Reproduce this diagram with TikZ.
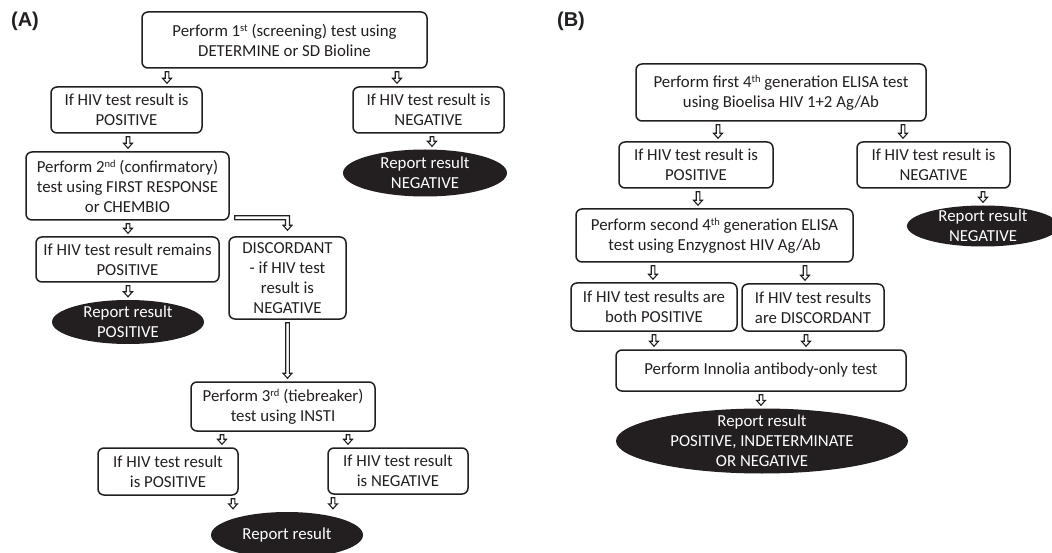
\documentclass[tikz,border=0pt]{standalone}
\usepackage{fontspec}
\setmainfont{Carlito}
\newfontfamily\labfont{Liberation Sans}
\usetikzlibrary{calc}
\definecolor{ink}{HTML}{231F20}
\tikzset{
  box/.style={draw=ink, line width=1.5pt, rounded corners=6pt, rectangle, align=center,
    inner sep=0pt, text=ink, font=\fontsize{16.8}{20}\selectfont},
  ovaltext/.style={rectangle, draw=none, align=center, inner sep=0pt, text=white,
    font=\fontsize{16.8}{20}\selectfont},
  harrow/.style={draw=ink, line width=1.1pt, fill=white, line join=miter},
  panel/.style={font=\labfont\bfseries\fontsize{20}{24}\selectfont, text=ink, inner sep=0pt}
}
\newcommand\ordsup[1]{\raisebox{5pt}{\fontsize{10.5}{10.5}\selectfont #1}}
% hollow block arrow at pixel x #1 from node #2 down to node #3
\newcommand\hollowarr[3]{%
  \draw[harrow] let \p1=(#2.south), \p2=(#3.north) in
    (#1pt-1.8pt, \y1-3pt) -- (#1pt+1.8pt, \y1-3pt) -- (#1pt+1.8pt, \y2+8pt)
    -- (#1pt+4.5pt, \y2+8pt) -- (#1pt, \y2+3pt) -- (#1pt-4.5pt, \y2+8pt)
    -- (#1pt-1.8pt, \y2+8pt) -- cycle;}
% black oval with white text: name, position, width, height, text
\newcommand\blackoval[5]{%
  \fill[ink] #2 ellipse [x radius=#3pt/2, y radius=#4pt/2];
  \node[ovaltext, minimum width=#3pt, minimum height=#4pt] (#1) at #2 {#5};}
\begin{document}
\begin{tikzpicture}[x=1pt,y=-1pt]
\useasboundingbox (0,0) rectangle (1052,553);
\fill[white] (0,0) rectangle (1052,553);

% ---------------- Panel A ----------------
\node[panel] (labA) at (25,21) {(A)};
\node[box, minimum width=285pt, minimum height=56pt] (A1) at (284.5,40)
  {Perform 1\ordsup{st} (screening) test using\\DETERMINE or SD Bioline};
\node[box, minimum width=151pt, minimum height=46pt] (A2) at (126.5,110)
  {If HIV test result is\\POSITIVE};
\node[box, minimum width=151pt, minimum height=46pt] (A3) at (428.5,110)
  {If HIV test result is\\NEGATIVE};
\blackoval{EA1}{(425,173)}{164}{47}{Report result\\NEGATIVE}
\node[box, minimum width=203pt, minimum height=68pt] (A4) at (127.5,186)
  {Perform 2\ordsup{nd} (confirmatory)\\test using FIRST RESPONSE\\or CHEMBIO};
\node[box, minimum width=183pt, minimum height=45pt] (A5) at (127.5,259.5)
  {If HIV test result remains\\POSITIVE};
\node[box, minimum width=117pt, minimum height=82pt] (A6) at (287.5,278)
  {DISCORDANT\\- if HIV test\\result is\\NEGATIVE};
\blackoval{EA2}{(128,322)}{152}{44}{Report result\\POSITIVE}
\node[box, minimum width=184pt, minimum height=49pt] (A7) at (283,406.5)
  {Perform 3\ordsup{rd} (tiebreaker)\\test using INSTI};
\node[box, minimum width=140pt, minimum height=47pt] (A8) at (168,471.5)
  {If HIV test result\\is POSITIVE};
\node[box, minimum width=140pt, minimum height=46pt] (A9) at (398,471)
  {If HIV test result\\is NEGATIVE};
\blackoval{EA3}{(287,535)}{152}{46}{Report result}

\hollowarr{167}{A1}{A2}
\hollowarr{397}{A1}{A3}
\hollowarr{128}{A2}{A4}
\hollowarr{432}{A3}{EA1}
\hollowarr{128}{A4}{A5}
\hollowarr{128}{A5}{EA2}
\hollowarr{287.5}{A6}{A7}
\hollowarr{222}{A7}{A8}
\hollowarr{348}{A7}{A9}
\hollowarr{233}{A8}{EA3}
\hollowarr{333}{A9}{EA3}
% elbow arrow from A4 to A6
\draw[harrow] let \p1=(A4.east), \p2=(A4.south), \p3=(A6.north) in
  (\x1+5pt, \y2+5pt) -- (\x3+2pt, \y2+5pt) -- (\x3+2pt, \y3+11pt)
  -- (\x3+4.5pt, \y3+11pt) -- (\x3, \y3+6pt) -- (\x3-4.5pt, \y3+11pt)
  -- (\x3-2pt, \y3+11pt) -- (\x3-2pt, \y2+1pt) -- (\x1+5pt, \y2+1pt) -- cycle;

% ---------------- Panel B ----------------
\node[panel] (labB) at (571,21) {(B)};
\node[box, minimum width=290pt, minimum height=57pt] (B1) at (781,92.5)
  {Perform first 4\ordsup{th} generation ELISA test\\using Bioelisa HIV 1+2 Ag/Ab};
\node[box, minimum width=154pt, minimum height=46pt] (B2) at (696,165)
  {If HIV test result is\\POSITIVE};
\node[box, minimum width=153pt, minimum height=46pt] (B3) at (933.5,165)
  {If HIV test result is\\NEGATIVE};
\blackoval{EB1}{(983,226)}{152}{41}{Report result\\NEGATIVE}
\node[box, minimum width=277pt, minimum height=53pt] (B4) at (714.5,235.5)
  {Perform second 4\ordsup{th} generation ELISA\\test using Enzygnost HIV Ag/Ab};
\node[box, minimum width=166pt, minimum height=48pt] (B5) at (654,307)
  {If HIV test results are\\both POSITIVE};
\node[box, minimum width=142pt, minimum height=47pt] (B6) at (813,307.5)
  {If HIV test results\\are DISCORDANT};
\node[box, minimum width=290pt, minimum height=41pt] (B7) at (761,370.5)
  {Perform Innolia antibody-only test};
\blackoval{EB2}{(762,441)}{292}{65}{Report result\\POSITIVE, INDETERMINATE\\OR NEGATIVE}

\hollowarr{718}{B1}{B2}
\hollowarr{903}{B1}{B3}
\hollowarr{698}{B2}{B4}
\hollowarr{983}{B3}{EB1}
\hollowarr{653}{B4}{B5}
\hollowarr{805}{B4}{B6}
\hollowarr{654}{B5}{B7}
\hollowarr{806}{B6}{B7}
\hollowarr{761}{B7}{EB2}
\end{tikzpicture}
\end{document}
